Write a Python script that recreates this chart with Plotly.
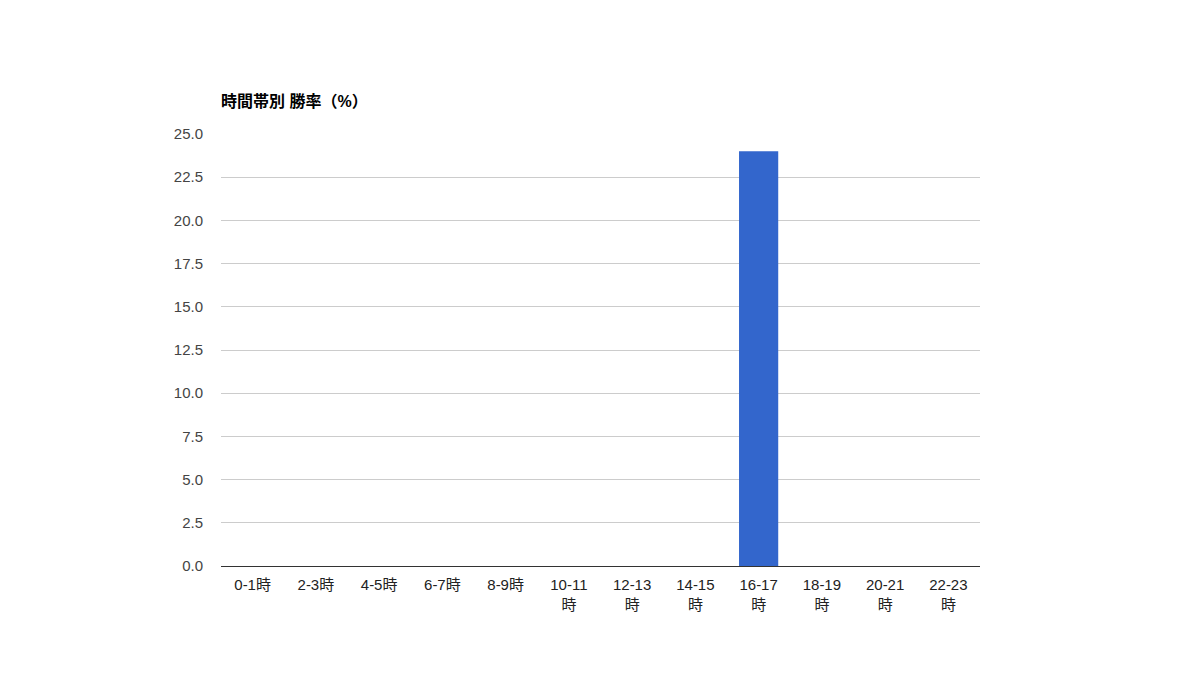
import plotly.graph_objects as go

categories = ["0-1時", "2-3時", "4-5時", "6-7時", "8-9時", "10-11<br>時", "12-13<br>時",
              "14-15<br>時", "16-17<br>時", "18-19<br>時", "20-21<br>時", "22-23<br>時"]
win_rate = [0, 0, 0, 0, 0, 0, 0, 0, 24.0, 0, 0, 0]
title_text = "時間帯別 勝率（%）"

font_family = "Liberation Sans, Arial, Noto Sans CJK JP, sans-serif"

fig = go.Figure(go.Bar(x=categories, y=win_rate, marker=dict(color="#3366cc", line=dict(width=0))))

fig.update_layout(
    width=1200, height=700,
    margin=dict(l=213, r=228, t=126, b=142),
    plot_bgcolor="white", paper_bgcolor="white",
    bargap=0.38,
    showlegend=False,
    font=dict(family=font_family, size=15, color="#444444"),
    title=dict(text="<b>" + title_text + "</b>", x=213 / 1200, xanchor="left",
               y=1 - 93 / 700, yanchor="middle",
               font=dict(family=font_family, size=16, color="#000000")),
)
fig.update_xaxes(showgrid=False, showline=True, linecolor="#333333", linewidth=1,
                 ticks="", ticklabelstandoff=5, tickfont=dict(size=15, color="#222222"),
                 fixedrange=True)
fig.update_yaxes(range=[0, 25], dtick=2.5, tick0=0, tickformat=".1f", showgrid=True,
                 gridcolor="#cccccc", gridwidth=1, zeroline=False, showline=False,
                 ticks="", ticklabelstandoff=17, tickfont=dict(size=15, color="#444444"))

fig.write_html("out.html")
